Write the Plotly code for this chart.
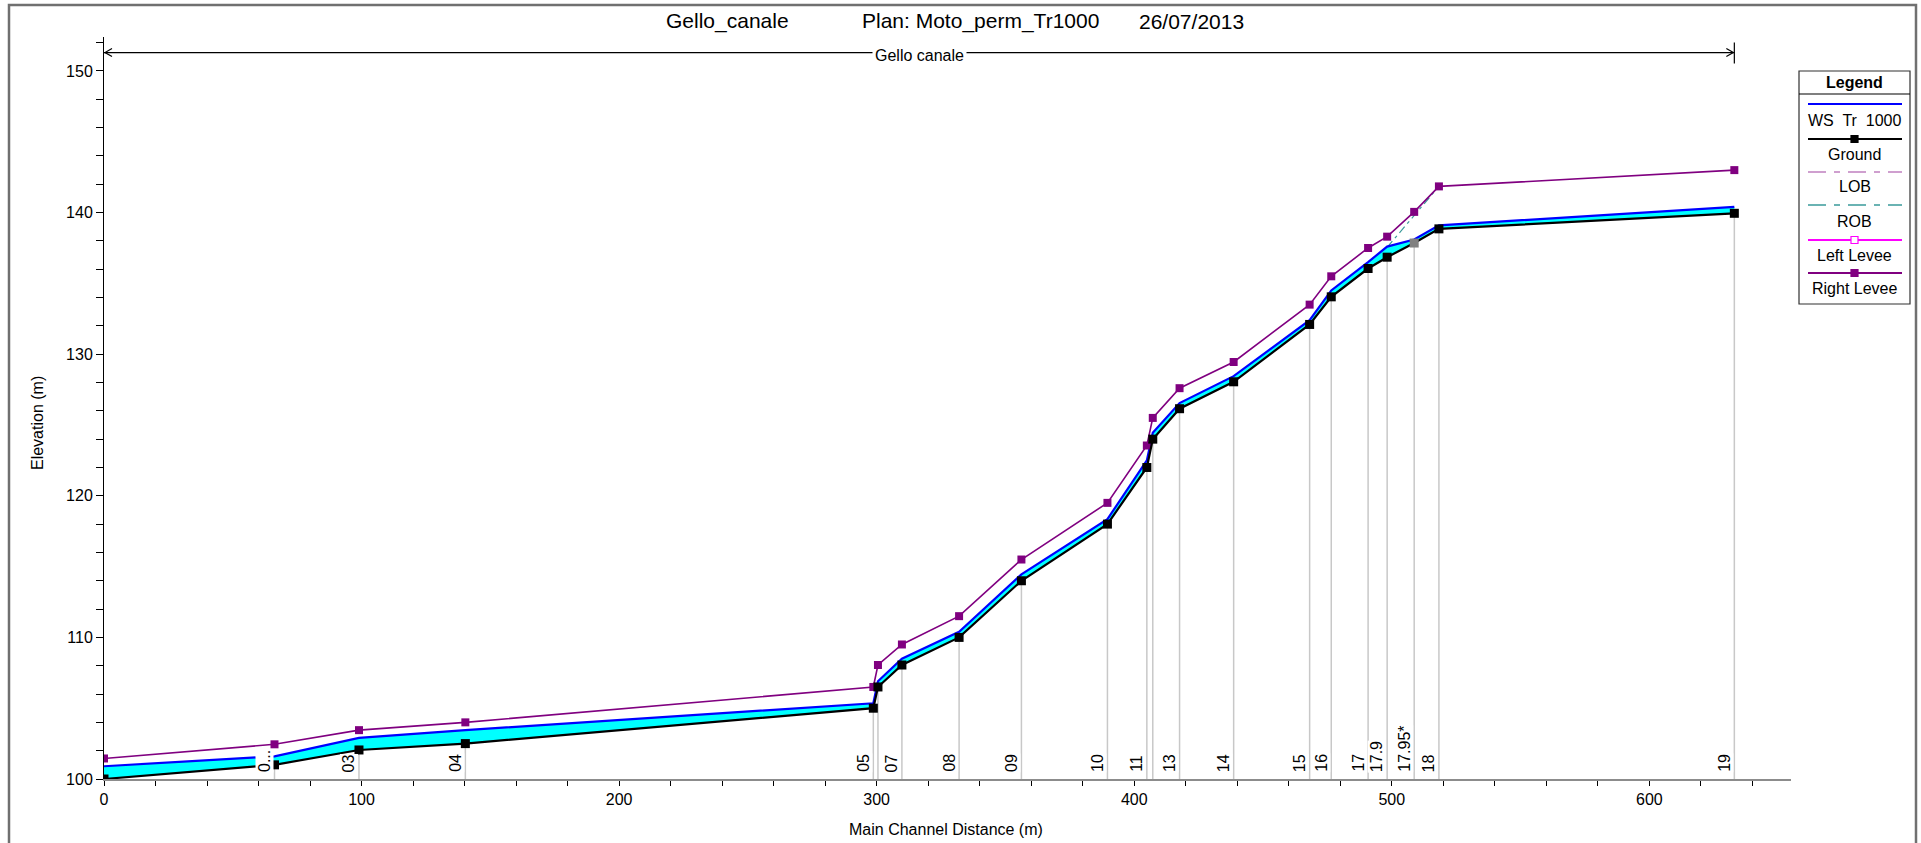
import plotly.graph_objects as go

# River stations along the main channel (m) and their section labels
stations = [0, 66.2, 99.0, 140.3, 298.7, 300.5, 309.8, 332.0, 356.2, 389.6, 404.9,
            407.2, 417.6, 438.6, 468.1, 476.5, 490.8, 498.2, 508.7, 518.3, 633.0]
section_labels = ["", "0...", "03", "04", "05", "", "07", "08", "09", "10", "11",
                  "", "13", "14", "15", "16", "17", "17.9", "17.95*", "18", "19"]
interpolated = [False] * 18 + [True, False, False]

# Profile elevations (m)
ground = [100.0, 101.0, 102.05, 102.5, 105.0, 106.5, 108.05, 110.0, 114.0, 118.0, 122.0,
          124.0, 126.15, 128.05, 132.1, 134.05, 136.05, 136.85, 137.85, 138.85, 139.95]
ws_tr1000 = [100.9, 101.6, 102.9, 103.45, 105.35, 106.9, 108.5, 110.4, 114.45, 118.35, 122.5,
             124.45, 126.55, 128.45, 132.4, 134.5, 136.5, 137.6, 138.1, 139.1, 140.4]
right_levee = [101.45, 102.45, 103.45, 104.0, 106.5, 108.05, 109.5, 111.5, 115.5, 119.5, 123.55,
               125.5, 127.6, 129.45, 133.5, 135.5, 137.5, 138.3, 140.05, 141.85, 143.0]
rob = [None] * 17 + [137.55, 139.8, 141.85, None]

reach_name = "Gello canale"
reach_start, reach_end, reach_elev = 0.0, 633.0, 151.3

FONT = "Liberation Sans, Arial, sans-serif"
W, H = 1921, 843
ML, MR, MT, MB = 104, 130, 37, 64
PW, PH = W - ML - MR, H - MT - MB


def px(x):
    return (x - ML) / PW


def py(y):
    return (H - MB - y) / PH


fig = go.Figure()

# Vertical station lines from the axis up to the ground
vx, vy = [], []
for s, g in zip(stations, ground):
    if s <= 0:
        continue
    vx += [s, s, None]
    vy += [100, g, None]
fig.add_trace(go.Scatter(x=vx, y=vy, mode="lines", line=dict(color="#c8c8c8", width=1.5),
                         hoverinfo="skip", showlegend=False))

# Right overbank (visible only near 17.9 - 18)
fig.add_trace(go.Scatter(x=stations, y=rob, mode="lines", connectgaps=False,
                         line=dict(color="#3a9a9a", width=1.2, dash="8px,4px,3px,4px"),
                         showlegend=False))

# Water surface filled down to the ground
fig.add_trace(go.Scatter(x=stations, y=ground, mode="lines", line=dict(width=0, color="black"),
                         hoverinfo="skip", showlegend=False))
fig.add_trace(go.Scatter(x=stations, y=ws_tr1000, mode="lines", fill="tonexty",
                         fillcolor="#00ffff", line=dict(color="#0000ff", width=2.2),
                         showlegend=False))

# Right levee
fig.add_trace(go.Scatter(x=stations, y=right_levee, mode="lines+markers",
                         line=dict(color="#800080", width=1.6),
                         marker=dict(symbol="square", size=8, color="#800080"),
                         showlegend=False))

# Ground
fig.add_trace(go.Scatter(x=stations, y=ground, mode="lines+markers",
                         line=dict(color="black", width=2.2),
                         marker=dict(symbol="square", size=9,
                                     color=["#808080" if i else "black" for i in interpolated]),
                         showlegend=False))

annotations = []
shapes = []

# Section labels (rotated, just left of each station line)
for s, lab in zip(stations, section_labels):
    if not lab:
        continue
    annotations.append(dict(x=s, y=100, xref="x", yref="y", text=lab, showarrow=False,
                            textangle=-90, xanchor="right", yanchor="bottom",
                            xshift=-1, yshift=6, bgcolor="white", borderpad=0,
                            font=dict(family=FONT, size=16, color="black")))

# Reach extent arrow with its name
shapes.append(dict(type="line", xref="x", yref="y", x0=reach_start, x1=reach_end,
                   y0=reach_elev, y1=reach_elev, line=dict(color="black", width=1.2)))
shapes.append(dict(type="path", xref="x", yref="y", xsizemode="pixel", ysizemode="pixel",
                   xanchor=reach_start, yanchor=reach_elev,
                   path="M 8 -4 L 1 0 L 8 4", line=dict(color="black", width=1.2)))
shapes.append(dict(type="path", xref="x", yref="y", xsizemode="pixel", ysizemode="pixel",
                   xanchor=reach_end, yanchor=reach_elev,
                   path="M -8 -4 L -1 0 L -8 4", line=dict(color="black", width=1.2)))
shapes.append(dict(type="path", xref="x", yref="y", xsizemode="pixel", ysizemode="pixel",
                   xanchor=reach_end, yanchor=reach_elev,
                   path="M 0 -11 L 0 10", line=dict(color="black", width=1.2)))
annotations.append(dict(x=(reach_start + reach_end) / 2, y=reach_elev, xref="x", yref="y",
                        text=reach_name, showarrow=False, bgcolor="white", borderpad=2,
                        xanchor="center", yanchor="middle", yshift=-3,
                        font=dict(family=FONT, size=16, color="black")))

# Title pieces
for txt, cx in [("Gello_canale", 727), ("Plan: Moto_perm_Tr1000", 980), ("26/07/2013", 1191)]:
    annotations.append(dict(x=px(cx), y=py(21), xref="paper", yref="paper", text=txt,
                            showarrow=False, xanchor="center", yanchor="middle",
                            font=dict(family=FONT, size=21, color="black")))

# Axis titles
annotations.append(dict(x=px(946), y=py(829), xref="paper", yref="paper",
                        text="Main Channel Distance (m)", showarrow=False,
                        xanchor="center", yanchor="middle",
                        font=dict(family=FONT, size=16, color="black")))
annotations.append(dict(x=px(37), y=py(423), xref="paper", yref="paper",
                        text="Elevation (m)", showarrow=False, textangle=-90,
                        xanchor="center", yanchor="middle",
                        font=dict(family=FONT, size=16, color="black")))

# Outer frame
shapes.append(dict(type="rect", xref="paper", yref="paper", x0=px(9), x1=px(1916),
                   y0=py(860), y1=py(5), line=dict(color="#707070", width=2.5),
                   layer="below"))

# Legend box
LX0, LX1, LY0, LY1 = 1799, 1910, 71, 304
shapes.append(dict(type="rect", xref="paper", yref="paper", x0=px(LX0), x1=px(LX1),
                   y0=py(LY1), y1=py(LY0), line=dict(color="#303030", width=1.2),
                   fillcolor="white"))
shapes.append(dict(type="line", xref="paper", yref="paper", x0=px(LX0), x1=px(LX1),
                   y0=py(94), y1=py(94), line=dict(color="black", width=1.2)))
annotations.append(dict(x=px((LX0 + LX1) / 2), y=py(82), xref="paper", yref="paper",
                        text="<b>Legend</b>", showarrow=False, xanchor="center",
                        yanchor="middle", font=dict(family=FONT, size=16, color="black")))

legend_items = [
    ("WS  Tr  1000", 104, 120, dict(color="#0000ff", width=2), None),
    ("Ground", 139, 154, dict(color="black", width=2), ("black", "black")),
    ("LOB", 172, 187, dict(color="#c080c0", width=1.5, dash="18px,8px,6px,8px"), None),
    ("ROB", 205, 221, dict(color="#3a9a9a", width=1.5, dash="18px,8px,6px,8px"), None),
    ("Left Levee", 240, 255, dict(color="#ff00ff", width=2), ("white", "#ff00ff")),
    ("Right Levee", 273, 288, dict(color="#800080", width=2), ("#800080", "#800080")),
]
cx = (LX0 + LX1) / 2
for name, ly, ty, lstyle, mk in legend_items:
    shapes.append(dict(type="line", xref="paper", yref="paper", x0=px(1808), x1=px(1902),
                       y0=py(ly), y1=py(ly), line=lstyle))
    if mk:
        shapes.append(dict(type="rect", xref="paper", yref="paper", x0=px(cx - 3.5),
                           x1=px(cx + 3.5), y0=py(ly + 3.5), y1=py(ly - 3.5),
                           fillcolor=mk[0], line=dict(color=mk[1], width=1.2)))
    annotations.append(dict(x=px(cx), y=py(ty), xref="paper", yref="paper", text=name,
                            showarrow=False, xanchor="center", yanchor="middle",
                            font=dict(family=FONT, size=16, color="black")))

fig.update_layout(
    width=W, height=H, autosize=False,
    margin=dict(l=ML, r=MR, t=MT, b=MB, pad=0),
    paper_bgcolor="white", plot_bgcolor="white",
    showlegend=False,
    font=dict(family=FONT, size=16, color="black"),
    shapes=shapes, annotations=annotations,
    xaxis=dict(range=[0, 655], showgrid=False, zeroline=False, showline=True,
               linecolor="#8c8c8c", linewidth=2, ticks="outside", ticklen=5,
               tickcolor="black", tickwidth=1, tickvals=[0, 100, 200, 300, 400, 500, 600],
               tickfont=dict(family=FONT, size=16, color="black"),
               minor=dict(dtick=20, tick0=0, ticks="outside", ticklen=5, tickcolor="black",
                          tickwidth=1, showgrid=False)),
    yaxis=dict(range=[100, 152.4], showgrid=False, zeroline=False, showline=True,
               linecolor="black", linewidth=1, ticks="outside", ticklen=7,
               tickcolor="black", tickwidth=1, dtick=10, tick0=100,
               tickfont=dict(family=FONT, size=16, color="black"),
               minor=dict(dtick=2, tick0=100, ticks="outside", ticklen=7, tickcolor="black",
                          tickwidth=1, showgrid=False)),
)

fig.write_html("out.html")
